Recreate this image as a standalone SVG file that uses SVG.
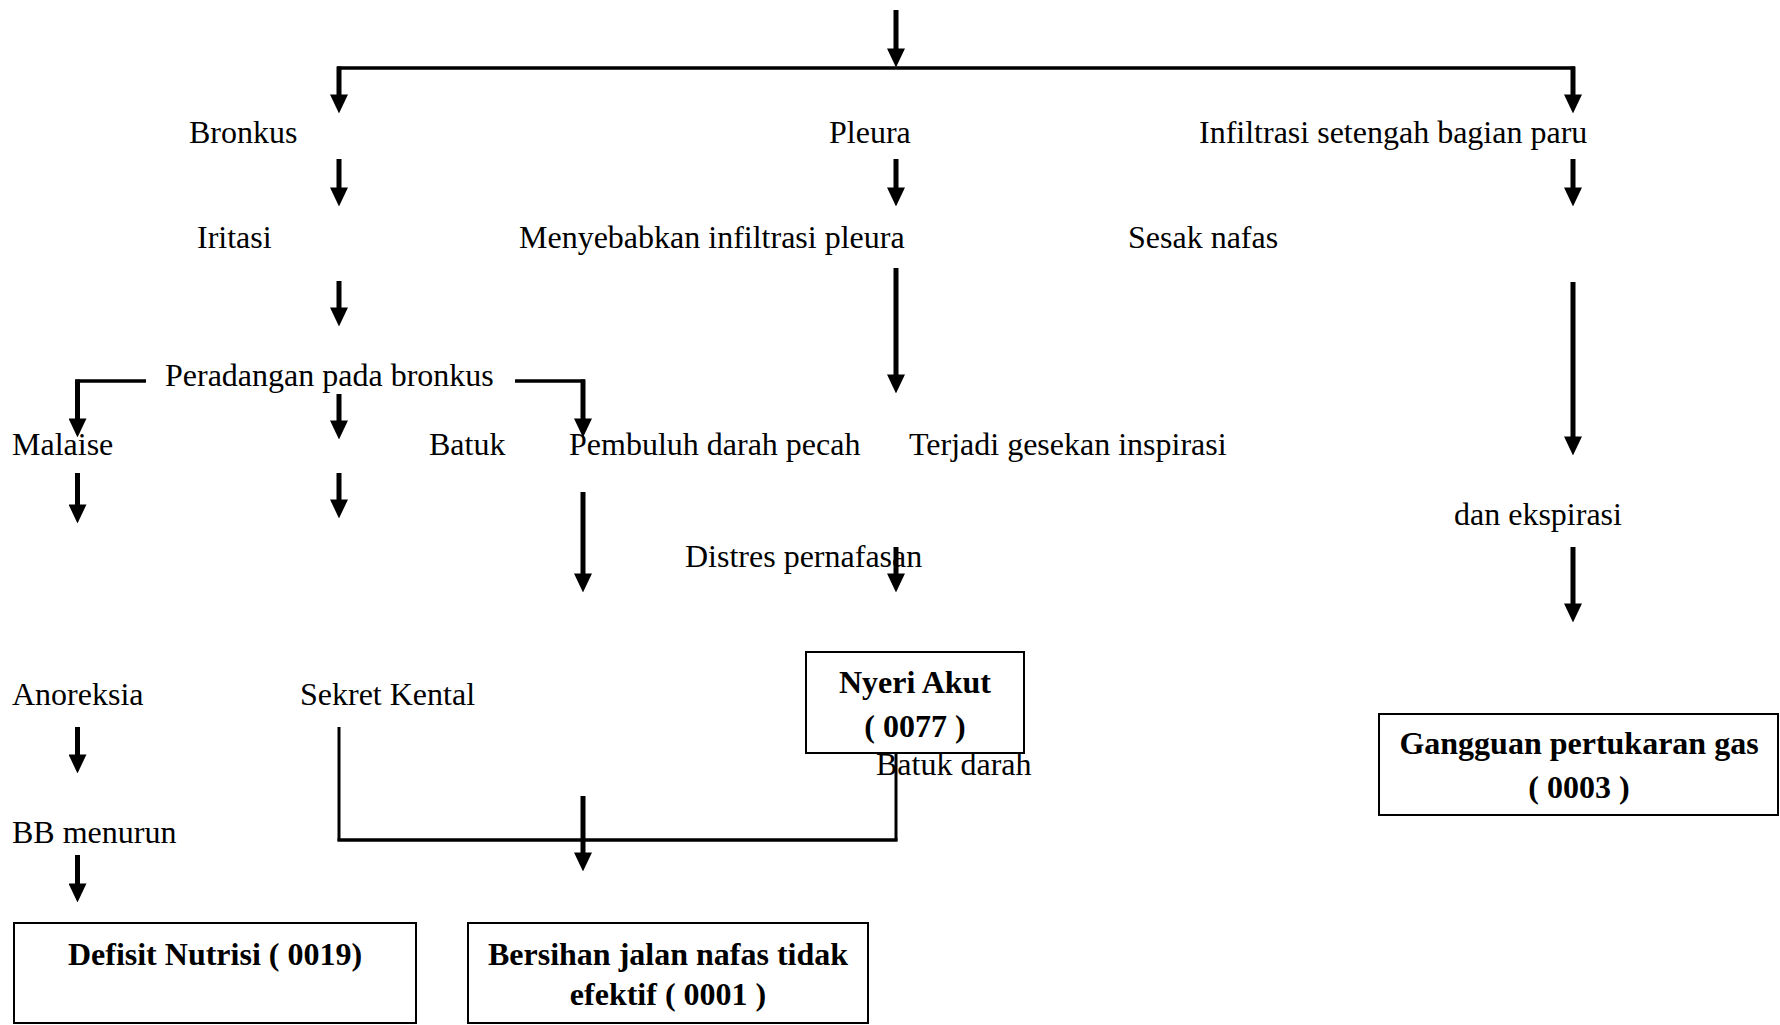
<svg xmlns="http://www.w3.org/2000/svg" width="1780" height="1025" viewBox="0 0 1780 1025">
<defs>
<marker id="ah" markerUnits="userSpaceOnUse" markerWidth="19" markerHeight="18" viewBox="0 0 18 17" refX="10" refY="8.5" orient="auto">
<path d="M0,0 L18,8.5 L0,17 z" fill="#000"/>
</marker>
</defs>
<style>
.t{font-family:"Liberation Serif","Times New Roman",serif;font-size:32px;fill:#000}
.b{font-family:"Liberation Serif","Times New Roman",serif;font-size:32px;font-weight:bold;fill:#000;text-anchor:middle}
.a{stroke:#000;stroke-width:5;fill:none;marker-end:url(#ah)}
.l{stroke:#000;stroke-width:3.5;fill:none}
.thin{stroke:#000;stroke-width:3;fill:none}
.box{fill:#fff;stroke:#000;stroke-width:2}
</style>
<rect width="1780" height="1025" fill="#fff"/>
<g id="connectors">
<line class="a" x1="896" y1="10" x2="896" y2="59"/>
<line class="l" x1="337" y1="68" x2="1575" y2="68"/>
<line class="a" x1="339" y1="66.5" x2="339" y2="105"/>
<line class="a" x1="1573" y1="66.5" x2="1573" y2="105"/>
<line class="a" x1="339" y1="159" x2="339" y2="198"/>
<line class="a" x1="896" y1="159" x2="896" y2="198"/>
<line class="a" x1="1573" y1="159" x2="1573" y2="198"/>
<line class="a" x1="339" y1="281" x2="339" y2="318"/>
<line class="a" x1="896" y1="268" x2="896" y2="385"/>
<line class="a" x1="1573" y1="282" x2="1573" y2="447"/>
<line class="l" x1="146" y1="381" x2="75.5" y2="381"/>
<line class="a" x1="77.5" y1="379.5" x2="77.5" y2="429"/>
<line class="a" x1="339" y1="394" x2="339" y2="431"/>
<line class="l" x1="515" y1="381" x2="585" y2="381"/>
<line class="a" x1="583" y1="379.5" x2="583" y2="429"/>
<line class="a" x1="77.5" y1="473" x2="77.5" y2="515"/>
<line class="a" x1="339" y1="473" x2="339" y2="510"/>
<line class="a" x1="583" y1="492" x2="583" y2="584"/>
<line class="a" x1="896" y1="547" x2="896" y2="584"/>
<line class="a" x1="1573" y1="547" x2="1573" y2="614"/>
<line class="a" x1="77.5" y1="727" x2="77.5" y2="765"/>
<line class="a" x1="77.5" y1="855" x2="77.5" y2="894"/>
<line class="thin" x1="339" y1="727" x2="339" y2="841"/>
<line class="l" x1="337.5" y1="840" x2="897.5" y2="840"/>
<line class="thin" x1="896" y1="841" x2="896" y2="753"/>
<line class="a" x1="583" y1="796" x2="583" y2="863"/>
</g>
<g id="n-bronkus"><text class="t" x="189" y="143">Bronkus</text></g>
<g id="n-pleura"><text class="t" x="829" y="143">Pleura</text></g>
<g id="n-infiltrasi"><text class="t" x="1199" y="143">Infiltrasi setengah bagian paru</text></g>
<g id="n-iritasi"><text class="t" x="197" y="248">Iritasi</text></g>
<g id="n-menyebabkan"><text class="t" x="519" y="248">Menyebabkan infiltrasi pleura</text></g>
<g id="n-sesak"><text class="t" x="1128" y="248">Sesak nafas</text></g>
<g id="n-peradangan"><text class="t" x="165" y="386">Peradangan pada bronkus</text></g>
<g id="n-malaise"><text class="t" x="12" y="455">Malaise</text></g>
<g id="n-batuk"><text class="t" x="429" y="455">Batuk</text></g>
<g id="n-pembuluh"><text class="t" x="569" y="455">Pembuluh darah pecah</text></g>
<g id="n-terjadi"><text class="t" x="909" y="455">Terjadi gesekan inspirasi</text></g>
<g id="n-ekspirasi"><text class="t" x="1454" y="525">dan ekspirasi</text></g>
<g id="n-distres"><text class="t" x="685" y="567">Distres pernafasan</text></g>
<g id="n-anoreksia"><text class="t" x="12" y="705">Anoreksia</text></g>
<g id="n-sekret"><text class="t" x="300" y="705">Sekret Kental</text></g>
<g id="n-bb"><text class="t" x="12" y="843">BB menurun</text></g>
<g id="n-nyeri">
<rect class="box" x="806" y="652" width="218" height="101"/>
<text class="b" x="915" y="693">Nyeri Akut</text>
<text class="b" x="915" y="737">( 0077 )</text>
</g>
<g id="n-batukdarah"><text class="t" x="876" y="775">Batuk darah</text></g>
<g id="n-gangguan">
<rect class="box" x="1379" y="714" width="399" height="101"/>
<text class="b" x="1579" y="754">Gangguan pertukaran gas</text>
<text class="b" x="1579" y="798">( 0003 )</text>
</g>
<g id="n-defisit">
<rect class="box" x="14" y="923" width="402" height="100"/>
<text class="b" x="215" y="965">Defisit Nutrisi ( 0019)</text>
</g>
<g id="n-bersihan">
<rect class="box" x="468" y="923" width="400" height="100"/>
<text class="b" x="668" y="965">Bersihan jalan nafas tidak</text>
<text class="b" x="668" y="1005">efektif ( 0001 )</text>
</g>
</svg>
